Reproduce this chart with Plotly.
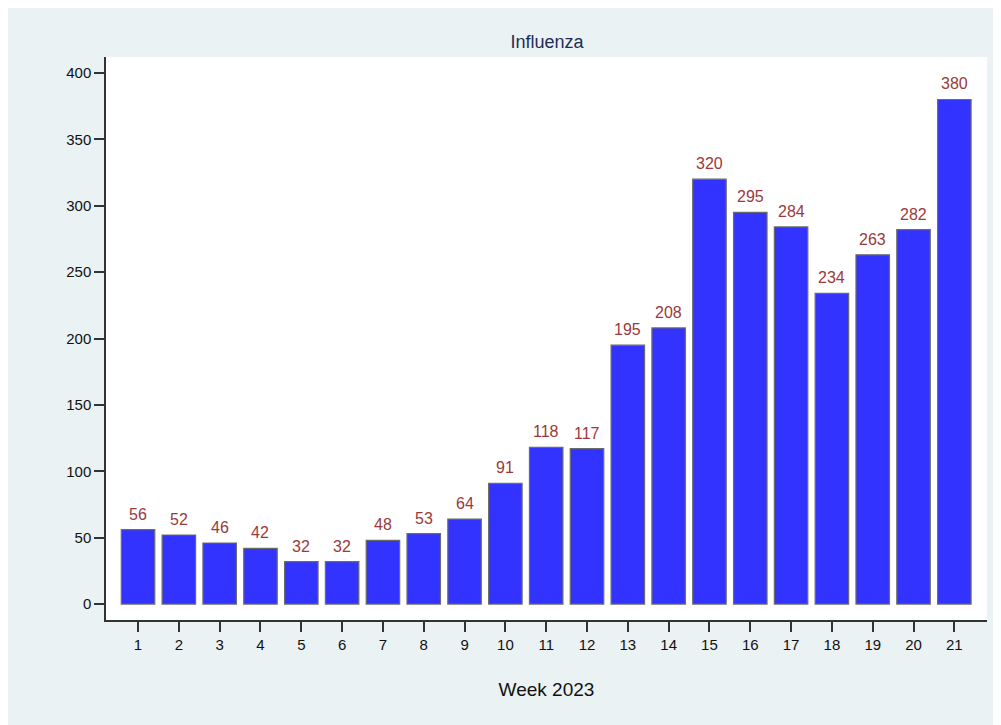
import plotly.graph_objects as go

weeks = list(range(1, 22))
cases = [56, 52, 46, 42, 32, 32, 48, 53, 64, 91, 118, 117, 195, 208, 320, 295, 284, 234, 263, 282, 380]
y_ticks = [0, 50, 100, 150, 200, 250, 300, 350, 400]

W, H = 993, 717

fig = go.Figure()
fig.add_trace(go.Bar(
    x=weeks, y=cases, width=0.82,
    marker=dict(color="#3333FF", line=dict(color="#6b6b6b", width=1.2)),
    hoverinfo="x+y",
))
for w, c in zip(weeks, cases):
    fig.add_annotation(x=w, y=c, text=str(c), showarrow=False, yanchor="bottom",
                       yshift=5, font=dict(family="Liberation Sans, Arial", size=16, color="#9a3a3a"))

fig.update_layout(
    width=W, height=H,
    paper_bgcolor="#EAF2F3", plot_bgcolor="#FFFFFF",
    margin=dict(l=98, r=14, t=49, b=105),
    showlegend=False,
    title=dict(text="Influenza", x=539 / W, xanchor="center", y=1 - 34 / H, yanchor="middle",
               font=dict(family="Liberation Sans, Arial", size=18, color="#1e2d55")),
    font=dict(family="Liberation Sans, Arial", size=15, color="#111111"),
)
fig.update_xaxes(
    range=[0.215, 21.8], tickmode="array", tickvals=weeks, ticktext=[str(w) for w in weeks],
    ticks="outside", ticklen=10, tickcolor="#333333", tickwidth=1.5,
    showline=True, linecolor="#333333", linewidth=1.5, showgrid=False, zeroline=False,
    title=dict(text="Week 2023", font=dict(size=19, color="#111111"), standoff=31),
    tickfont=dict(size=15),
)
fig.update_yaxes(
    range=[-12, 412], tickmode="array", tickvals=y_ticks,
    ticks="outside", ticklen=10, tickcolor="#333333", tickwidth=1.5,
    showline=True, linecolor="#333333", linewidth=1.5, showgrid=False, zeroline=False,
    tickfont=dict(size=15),
)
fig.write_html("out.html")
